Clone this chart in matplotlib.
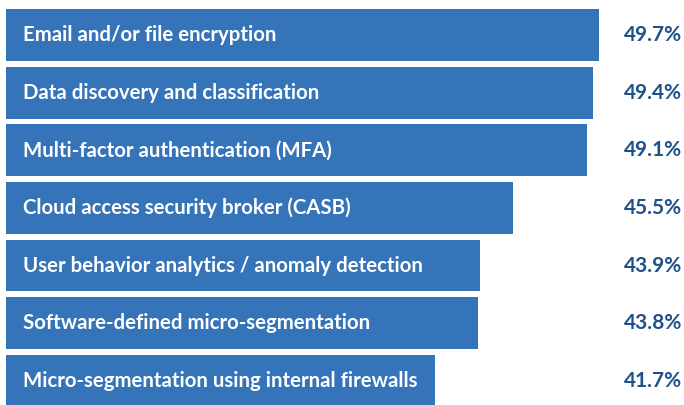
import matplotlib
matplotlib.use('Agg')
import matplotlib.pyplot as plt

# categories and percentages
labels = ['Email and/or file encryption',
          'Data discovery and classification',
          'Multi-factor authentication (MFA)',
          'Cloud access security broker (CASB)',
          'User behavior analytics / anomaly detection',
          'Software-defined micro-segmentation',
          'Micro-segmentation using internal firewalls']
values = [49.7, 49.4, 49.1, 45.5, 43.9, 43.8, 41.7]

bar_color = '#3674b9'
text_color = '#1f5189'

plt.rcParams['font.family'] = ['Lato', 'DejaVu Sans']

fig = plt.figure(figsize=(6.84, 4.05), dpi=100)
ax = fig.add_axes([6 / 684, 0, 678 / 684, 1])

ax.barh(range(len(values)), values, height=0.9, color=bar_color)
ax.set_xlim(20.83, 53.84)
ax.set_ylim(6.42, -0.608)

for i, (lab, v) in enumerate(zip(labels, values)):
    ax.text(21.67, i, lab, color='white', fontsize=14.7, fontweight='bold',
            va='center', ha='left')
    ax.text(53.75, i, '%.1f%%' % v, color=text_color, fontsize=15,
            fontweight='bold', va='center', ha='right')

ax.axis('off')
fig.savefig('out.png', dpi=100)
